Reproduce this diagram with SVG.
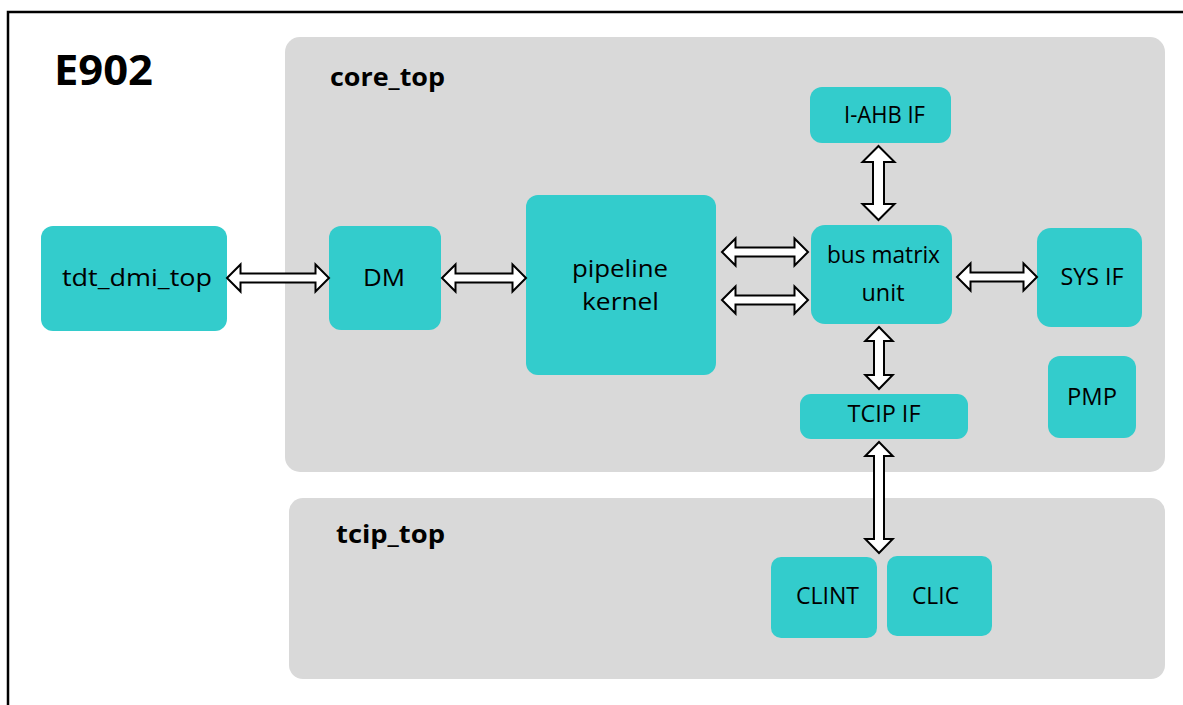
<svg xmlns="http://www.w3.org/2000/svg" width="1183" height="705" viewBox="0 0 1183 705">
<style>
.frame{fill:#ffffff;stroke:#000000;stroke-width:2.5}
.cont{fill:#d9d9d9}
.node{fill:#33cccc}
.t{font-family:"Open Sans","Noto Sans","Liberation Sans",sans-serif;font-size:24px;fill:#000000;text-anchor:middle}
.ct{font-family:"Open Sans","Liberation Sans",sans-serif;font-size:25px;font-weight:bold;fill:#000000}
.title{font-family:"Open Sans","Liberation Sans",sans-serif;font-size:42px;font-weight:bold;fill:#000000}
.arr{fill:#ffffff;stroke:#000000;stroke-width:2;stroke-linejoin:miter}
</style>
<rect class="frame" x="8" y="12" width="1200" height="720"/>
<text class="title" x="54" y="85" textLength="99" lengthAdjust="spacingAndGlyphs">E902</text>
<g id="core_top">
<rect class="cont" x="285" y="37" width="880" height="435" rx="15"/>
<text class="ct" x="330" y="86" textLength="115" lengthAdjust="spacingAndGlyphs">core_top</text>
</g>
<g id="tcip_top">
<rect class="cont" x="289" y="498" width="876" height="181" rx="14"/>
<text class="ct" x="336" y="543" textLength="109" lengthAdjust="spacingAndGlyphs">tcip_top</text>
</g>
<g id="tdt_dmi_top">
<rect class="node" x="41" y="226" width="186" height="105" rx="12"/>
<text class="t" x="137" y="286" textLength="150" lengthAdjust="spacingAndGlyphs">tdt_dmi_top</text>
</g>
<g id="DM">
<rect class="node" x="329" y="226" width="112" height="104" rx="12"/>
<text class="t" x="384" y="286" textLength="42" lengthAdjust="spacingAndGlyphs">DM</text>
</g>
<g id="pipeline_kernel">
<rect class="node" x="526" y="195" width="190" height="180" rx="12"/>
<text class="t" x="620" y="277" textLength="96" lengthAdjust="spacingAndGlyphs">pipeline</text>
<text class="t" x="620.5" y="310" textLength="77" lengthAdjust="spacingAndGlyphs">kernel</text>
</g>
<g id="I-AHB_IF">
<rect class="node" x="810" y="87" width="141" height="56" rx="12"/>
<text class="t" x="884.5" y="123" textLength="81" lengthAdjust="spacingAndGlyphs">I-AHB IF</text>
</g>
<g id="bus_matrix_unit">
<rect class="node" x="811" y="225" width="141" height="99" rx="14"/>
<text class="t" x="883.5" y="263" textLength="113" lengthAdjust="spacingAndGlyphs">bus matrix</text>
<text class="t" x="883" y="301" textLength="43" lengthAdjust="spacingAndGlyphs">unit</text>
</g>
<g id="SYS_IF">
<rect class="node" x="1037" y="228" width="105" height="99" rx="14"/>
<text class="t" x="1092" y="285" textLength="63" lengthAdjust="spacingAndGlyphs">SYS IF</text>
</g>
<g id="PMP">
<rect class="node" x="1048" y="356" width="88" height="82" rx="12"/>
<text class="t" x="1092" y="405" textLength="50" lengthAdjust="spacingAndGlyphs">PMP</text>
</g>
<g id="TCIP_IF">
<rect class="node" x="800" y="394" width="168" height="45" rx="11"/>
<text class="t" x="884" y="422" textLength="73" lengthAdjust="spacingAndGlyphs">TCIP IF</text>
</g>
<g id="CLINT">
<rect class="node" x="771" y="557" width="106" height="81" rx="10"/>
<text class="t" x="827.5" y="604" textLength="63" lengthAdjust="spacingAndGlyphs">CLINT</text>
</g>
<g id="CLIC">
<rect class="node" x="887" y="556" width="105" height="80" rx="10"/>
<text class="t" x="935.5" y="604" textLength="47" lengthAdjust="spacingAndGlyphs">CLIC</text>
</g>
<g id="connectors">
<polygon class="arr" points="227,278 240.5,264.5 240.5,273.5 315.5,273.5 315.5,264.5 329,278 315.5,291.5 315.5,282.5 240.5,282.5 240.5,291.5"/>
<polygon class="arr" points="442,278 455.5,264.5 455.5,273.5 512.5,273.5 512.5,264.5 526,278 512.5,291.5 512.5,282.5 455.5,282.5 455.5,291.5"/>
<polygon class="arr" points="722,252 735.5,238.5 735.5,247.5 794.5,247.5 794.5,238.5 808,252 794.5,265.5 794.5,256.5 735.5,256.5 735.5,265.5"/>
<polygon class="arr" points="722,300 735.5,286.5 735.5,295.5 794.5,295.5 794.5,286.5 808,300 794.5,313.5 794.5,304.5 735.5,304.5 735.5,313.5"/>
<polygon class="arr" points="957,277 970.5,263.5 970.5,272.5 1023.5,272.5 1023.5,263.5 1037,277 1023.5,290.5 1023.5,281.5 970.5,281.5 970.5,290.5"/>
<polygon class="arr" points="878.5,146 894.5,162 884,162 884,204 894.5,204 878.5,220 862.5,204 873,204 873,162 862.5,162"/>
<polygon class="arr" points="879,327 892.7,341 884,341 884,375 892.7,375 879,389 865.3,375 874,375 874,341 865.3,341"/>
<polygon class="arr" points="879,442 892.7,456 884,456 884,539 892.7,539 879,553 865.3,539 874,539 874,456 865.3,456"/>
</g>
</svg>
